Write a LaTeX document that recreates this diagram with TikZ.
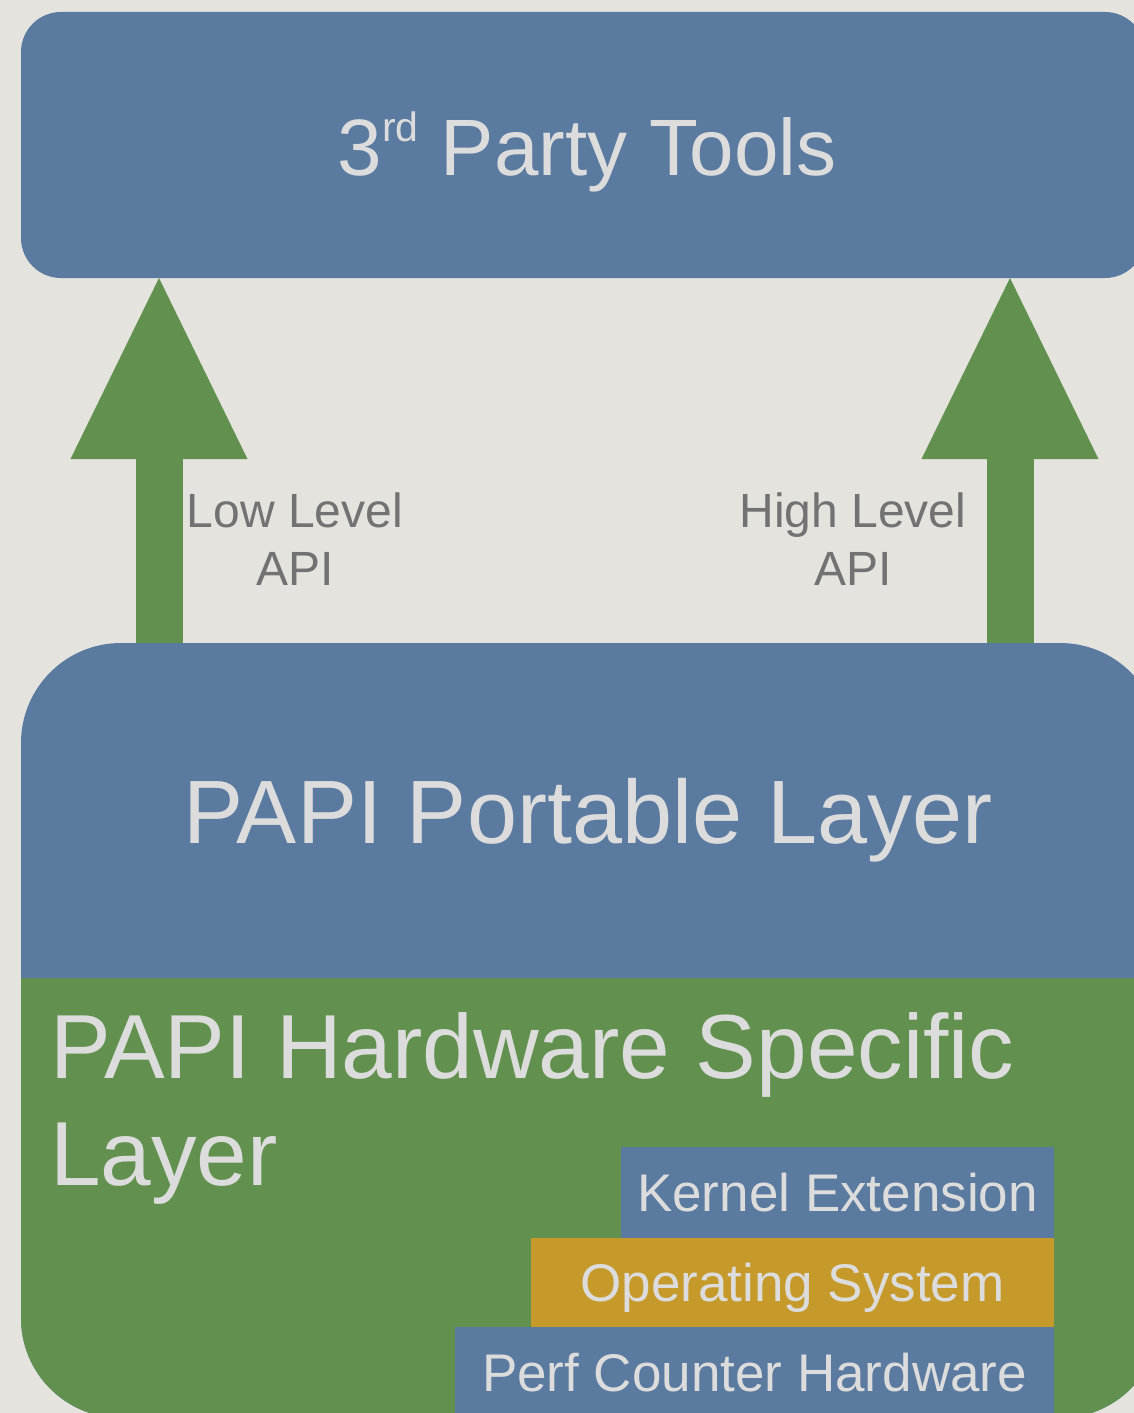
\documentclass[tikz,border=0pt]{standalone}
\usepackage{fontspec}
\setmainfont{Liberation Sans}
\usetikzlibrary{arrows.meta}
\definecolor{bgpaper}{HTML}{E4E3DE}
\definecolor{layerblue}{HTML}{5A7AA0}
\definecolor{layergreen}{HTML}{62914F}
\definecolor{layergold}{HTML}{C69A2A}
\definecolor{lighttext}{HTML}{DCDCDC}
\definecolor{graytext}{HTML}{727272}
\tikzset{
  layerbox/.style={rectangle, inner sep=0pt, outer sep=0pt},
  bigtext/.style={inner sep=0pt, text=lighttext},
  apilabel/.style={inner sep=0pt, text=graytext, font=\fontsize{48}{56}\selectfont},
  stackbox/.style={rectangle, inner sep=0pt, outer sep=0pt, text=lighttext,
    font=\fontsize{53}{60}\selectfont, text height=38pt, text depth=0pt, anchor=north west},
  uparrow/.style={draw=layergreen, line width=47pt,
    -{Triangle[width=177pt, length=181pt, line width=0pt]}}
}
\begin{document}
\begin{tikzpicture}[x=1pt,y=-1pt]
\useasboundingbox (0,0) rectangle (1134,1413);
\clip (0,0) rectangle (1134,1413);
\fill[bgpaper] (0,0) rectangle (1134,1413);

% top box
\node[layerbox, fill=layerblue, rounded corners=40pt, minimum width=1124pt,
      minimum height=266pt, anchor=north west] (tools) at (21,12) {};
\node[bigtext, anchor=base, font=\fontsize{80}{92}\selectfont] (toolstext) at (587,175)
  {3\raisebox{34pt}{\fontsize{41}{41}\selectfont rd} Party Tools};

% portable + hardware layers
\node[layerbox, fill=layerblue, rounded corners=100pt, minimum width=1139pt,
      minimum height=775pt, anchor=north west] (portable) at (21,643) {};
\fill[layergreen, rounded corners=100pt] (21,978) -- (21,1418) -- (1160,1418) -- (1160,978);

\node[bigtext, anchor=base, font=\fontsize{90}{105}\selectfont] (portabletext) at (588,843)
  {PAPI Portable Layer};
\node[bigtext, anchor=base west, font=\fontsize{91}{105}\selectfont] (hwone) at (50,1078)
  {PAPI Hardware Specific};
\node[bigtext, anchor=base west, font=\fontsize{91}{105}\selectfont] (hwtwo) at (50,1185)
  {Layer};

% stacked boxes
\node[stackbox, fill=layerblue, minimum width=433pt, minimum height=91pt] (kernel) at (621,1147)
  {Kernel Extension};
\node[stackbox, fill=layergold, minimum width=523pt, minimum height=89pt] (os) at (531,1238)
  {Operating System};
\node[stackbox, fill=layerblue, minimum width=599pt, minimum height=90pt] (perf) at (455,1327)
  {Perf Counter Hardware};

% arrows
\coordinate (lowx) at (159,0);
\coordinate (highx) at (1010,0);
\draw[uparrow] (portable.north -| lowx) -- (tools.south -| lowx);
\draw[uparrow] (portable.north -| highx) -- (tools.south -| highx);

% API labels
\node[apilabel, anchor=base] (lowone) at (295,527) {Low Level};
\node[apilabel, anchor=base] (lowtwo) at (295,585) {API};
\node[apilabel, anchor=base] (highone) at (853,527) {High Level};
\node[apilabel, anchor=base] (hightwo) at (853,585) {API};
\end{tikzpicture}
\end{document}
